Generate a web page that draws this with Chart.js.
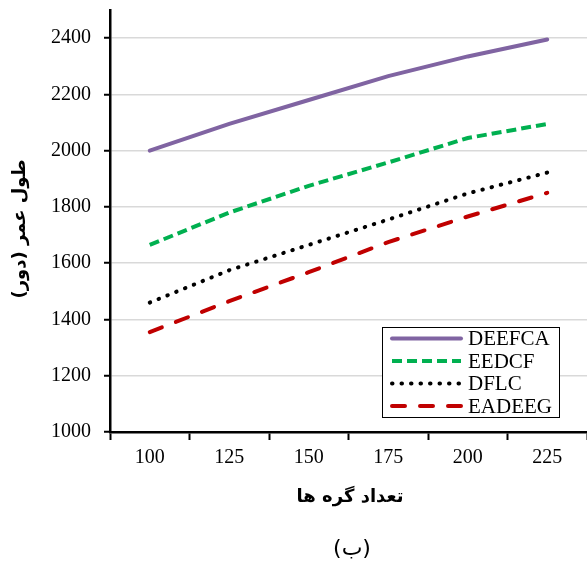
<!DOCTYPE html>
<html>
<head>
<meta charset="utf-8">
<script src="https://cdn.jsdelivr.net/npm/chart.js@4"></script>
<style>
    html, body { margin: 0; padding: 0; background: #fff; }
    #wrap { width: 587px; height: 564px; }
</style>
</head>
<body>
<div id="wrap"><canvas id="myChart" width="587" height="564"></canvas></div>
<script>
// data
var nodeCounts = ['100', '125', '150', '175', '200', '225'];
var deefca = [2000, 2095, 2180, 2265, 2335, 2395];
var eedcf = [1665, 1780, 1875, 1958, 2045, 2095];
var dflc = [1460, 1575, 1665, 1755, 1848, 1922];
var eadeeg = [1355, 1465, 1568, 1675, 1766, 1850];
var yTicks = [1000, 1200, 1400, 1600, 1800, 2000, 2200, 2400];

var serif = "'Liberation Serif', 'Times New Roman', serif";

/* titles, caption and the boxed legend inside the plot */
var extras = {
    id: 'extras',
    afterDraw: function (chart) {
        var ctx = chart.ctx;
        ctx.save();

        ctx.fillStyle = '#000';
        ctx.textAlign = 'center';
        ctx.textBaseline = 'middle';
        ctx.direction = 'rtl';

        ctx.font = "bold 18px 'DejaVu Sans', sans-serif";
        ctx.fillText('تعداد گره ها', 350, 497);

        ctx.save();
        ctx.translate(20, 229);
        ctx.rotate(-Math.PI / 2);
        ctx.fillText('طول عمر (دور)', 0, 0);
        ctx.restore();

        ctx.font = "22px 'DejaVu Sans', sans-serif";
        ctx.fillText('(ب)', 352, 549);

        // legend
        ctx.direction = 'ltr';
        var bx = 382.5, by = 327.5, bw = 177, bh = 90;
        ctx.fillStyle = '#fff';
        ctx.fillRect(bx, by, bw, bh);
        ctx.strokeStyle = '#000';
        ctx.lineWidth = 1;
        ctx.setLineDash([]);
        ctx.strokeRect(bx, by, bw, bh);

        var rows = [338.5, 361, 383.5, 406];
        ctx.font = '21px ' + serif;
        ctx.textAlign = 'left';
        chart.data.datasets.forEach(function (ds, i) {
            var y = rows[i];
            ctx.beginPath();
            ctx.strokeStyle = ds.borderColor;
            ctx.lineWidth = ds.borderWidth;
            ctx.lineCap = ds.borderCapStyle || 'butt';
            ctx.setLineDash(ds.borderDash || []);
            ctx.moveTo(392, y);
            ctx.lineTo(461, y);
            ctx.stroke();
            ctx.setLineDash([]);
            ctx.fillStyle = '#000';
            ctx.fillText(ds.label, 468, y + 1);
        });

        ctx.restore();
    }
};

var ctx = document.getElementById('myChart').getContext('2d');
var chart = new Chart(ctx, {
    type: 'line',
    data: {
        labels: nodeCounts,
        datasets: [
            {
                label: 'DEEFCA',
                data: deefca,
                borderColor: '#8064A2',
                borderWidth: 4,
                borderCapStyle: 'round'
            },
            {
                label: 'EEDCF',
                data: eedcf,
                borderColor: '#00B050',
                borderWidth: 4,
                borderDash: [10, 5]
            },
            {
                label: 'DFLC',
                data: dflc,
                borderColor: '#000000',
                borderWidth: 4,
                borderCapStyle: 'round',
                borderDash: [0.5, 9]
            },
            {
                label: 'EADEEG',
                data: eadeeg,
                borderColor: '#C00000',
                borderWidth: 4,
                borderCapStyle: 'round',
                borderDash: [13, 15]
            }
        ]
    },
    options: {
        responsive: false,
        animation: false,
        devicePixelRatio: 1,
        layout: { padding: { top: 10, right: 0, bottom: 0, left: 0 } },
        elements: {
            point: { radius: 0, hoverRadius: 0 },
            line: { tension: 0, fill: false }
        },
        plugins: {
            legend: { display: false },
            tooltip: { enabled: false }
        },
        scales: {
            x: {
                offset: true,
                afterFit: function (scale) {
                    scale.height = 132;
                    scale.paddingLeft = 0;
                    scale.paddingRight = 0;
                },
                grid: {
                    offset: true,
                    drawOnChartArea: false,
                    tickLength: 8,
                    tickColor: '#000',
                    tickWidth: 2
                },
                border: { color: '#000', width: 2.5 },
                ticks: {
                    color: '#000',
                    padding: 6,
                    maxRotation: 0,
                    font: { family: serif, size: 20 }
                }
            },
            y: {
                min: 1000,
                max: 2500,
                afterFit: function (scale) {
                    scale.width = 110;
                    scale.paddingTop = 0;
                    scale.paddingBottom = 0;
                },
                afterBuildTicks: function (scale) {
                    scale.ticks = yTicks.map(function (v) { return { value: v }; });
                },
                grid: {
                    color: '#D9D9D9',
                    lineWidth: 1.5,
                    tickLength: 6,
                    tickColor: '#000',
                    tickWidth: 2
                },
                border: { color: '#000', width: 2.5 },
                ticks: {
                    color: '#000',
                    padding: 13,
                    font: { family: serif, size: 20 },
                    callback: function (value) { return String(value); }
                }
            }
        }
    },
    plugins: [extras]
});
</script>
</body>
</html>
